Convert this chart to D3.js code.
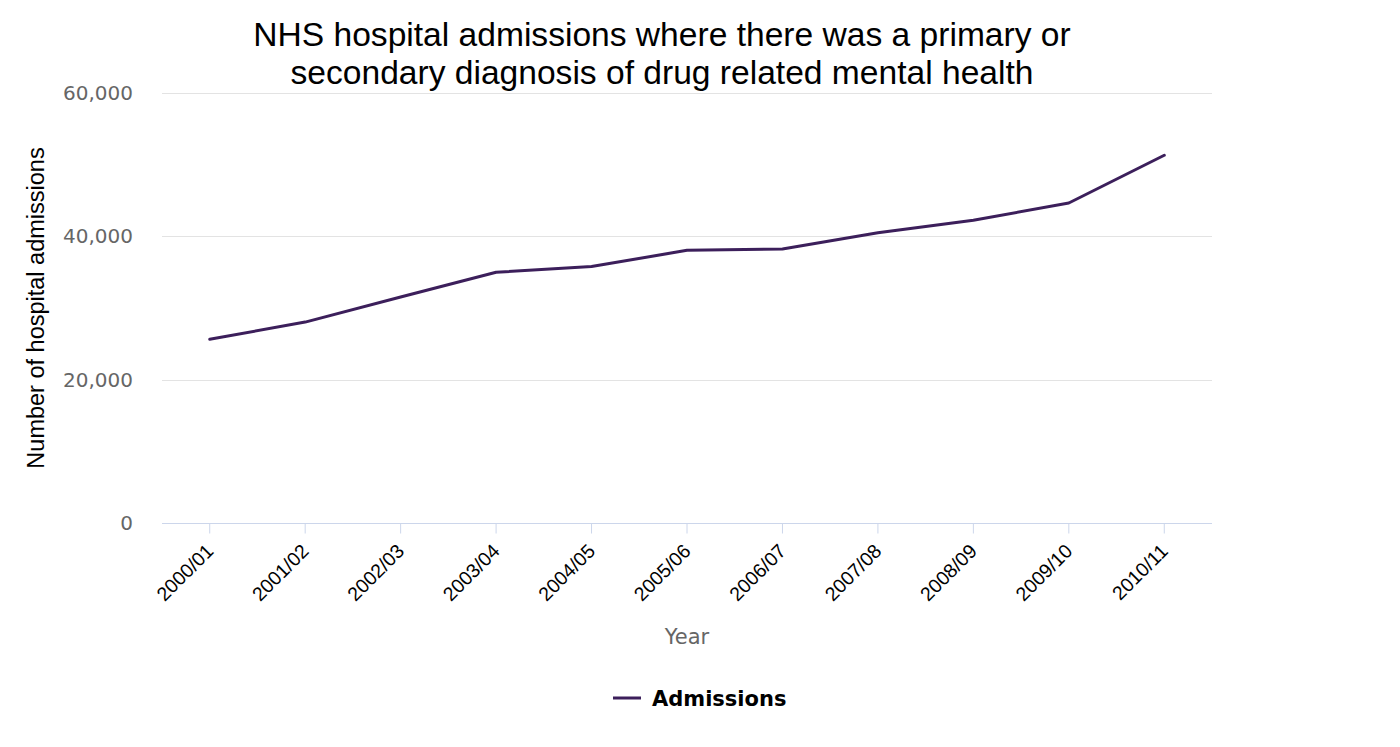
<!DOCTYPE html>
<html>
<head>
<meta charset="utf-8">
<script src="https://cdn.jsdelivr.net/npm/d3@7"></script>
<style>
  body { margin: 0; background: #fff; }
  svg { display: block; }
</style>
</head>
<body>
<svg id="chart" width="1400" height="747"></svg>
<script>
// data
var years = ["2000/01", "2001/02", "2002/03", "2003/04", "2004/05", "2005/06",
             "2006/07", "2007/08", "2008/09", "2009/10", "2010/11"];
var admissions = [25600, 28000, 31500, 34950, 35750, 38000,
                  38200, 40450, 42200, 44600, 51250];
var yTicks = [0, 20000, 40000, 60000];

var svg = d3.select("#chart");

// plot box (window.top is taken, so no "top" here)
var plotLeft = 162, plotRight = 1212, plotTop = 92.5, plotBottom = 523;

var xScale = d3.scaleBand()
    .domain(years)
    .range([plotLeft, plotRight])
    .padding(0);

var yScale = d3.scaleLinear()
    .domain([0, 60000])
    .range([plotBottom, plotTop]);

function xc(d) { return xScale(d) + xScale.bandwidth() / 2; }

// grid lines
svg.append("g")
    .attr("class", "grid")
    .selectAll("line")
    .data(yTicks.filter(function(d){ return d > 0; }))
    .enter().append("line")
    .attr("x1", plotLeft)
    .attr("x2", plotRight)
    .attr("y1", function(d){ return Math.round(yScale(d)) + 0.5; })
    .attr("y2", function(d){ return Math.round(yScale(d)) + 0.5; })
    .attr("stroke", "#e3e3e3")
    .attr("stroke-width", 1);

// y tick labels
var fmt = d3.format(",");
svg.append("g")
    .selectAll("text")
    .data(yTicks)
    .enter().append("text")
    .attr("x", 133)
    .attr("y", function(d){ return yScale(d) + 7; })
    .attr("text-anchor", "end")
    .attr("fill", "#666666")
    .style("font-family", "DejaVu Sans, sans-serif")
    .style("font-size", "20px")
    .text(function(d){ return fmt(d); });

// x axis
var xAxis = d3.axisBottom(xScale)
    .tickSize(10)
    .tickPadding(8);

var gx = svg.append("g")
    .attr("class", "x axis")
    .attr("transform", "translate(0," + (Math.round(plotBottom) + 0.5) + ")")
    .call(xAxis);

gx.select(".domain").attr("stroke", "#ccd6eb").attr("d", "M" + plotLeft + ",0H" + plotRight);
gx.selectAll(".tick line").attr("stroke", "#ccd6eb");
gx.selectAll(".tick text")
    .attr("fill", "#000")
    .style("font-family", "Liberation Sans, Arial, sans-serif")
    .style("font-size", "19.5px")
    .attr("text-anchor", "end")
    .attr("transform", "translate(0,24) rotate(-45)")
    .attr("dy", "0.35em")
    .attr("y", 0)
    .attr("x", 0);

// line
var line = d3.line()
    .x(function(d, i){ return xc(years[i]); })
    .y(function(d){ return yScale(d); });

svg.append("path")
    .datum(admissions)
    .attr("d", line)
    .attr("fill", "none")
    .attr("stroke", "#3c1f5b")
    .attr("stroke-width", 3)
    .attr("stroke-linejoin", "round")
    .attr("stroke-linecap", "round");

// titles
var title = svg.append("text")
    .attr("text-anchor", "middle")
    .attr("fill", "#000")
    .style("font-family", "Liberation Sans, Arial, sans-serif")
    .style("font-size", "33.6px");
title.append("tspan").attr("x", 662).attr("y", 46)
    .text("NHS hospital admissions where there was a primary or");
title.append("tspan").attr("x", 662).attr("y", 84)
    .text("secondary diagnosis of drug related mental health");

svg.append("text")
    .attr("transform", "translate(44,308) rotate(-90)")
    .attr("text-anchor", "middle")
    .attr("fill", "#000")
    .style("font-family", "Liberation Sans, Arial, sans-serif")
    .style("font-size", "23.5px")
    .text("Number of hospital admissions");

svg.append("text")
    .attr("x", (plotLeft + plotRight) / 2)
    .attr("y", 644)
    .attr("text-anchor", "middle")
    .attr("fill", "#666666")
    .style("font-family", "DejaVu Sans, sans-serif")
    .style("font-size", "21px")
    .text("Year");

// legend
var legend = svg.append("g").attr("transform", "translate(613,698)");
legend.append("line")
    .attr("x1", 0).attr("x2", 28)
    .attr("y1", 0).attr("y2", 0)
    .attr("stroke", "#3c1f5b")
    .attr("stroke-width", 3);
legend.append("text")
    .attr("x", 39)
    .attr("y", 7.5)
    .attr("fill", "#000")
    .style("font-family", "DejaVu Sans, sans-serif")
    .style("font-weight", "bold")
    .style("font-size", "21px")
    .text("Admissions");
</script>
</body>
</html>
